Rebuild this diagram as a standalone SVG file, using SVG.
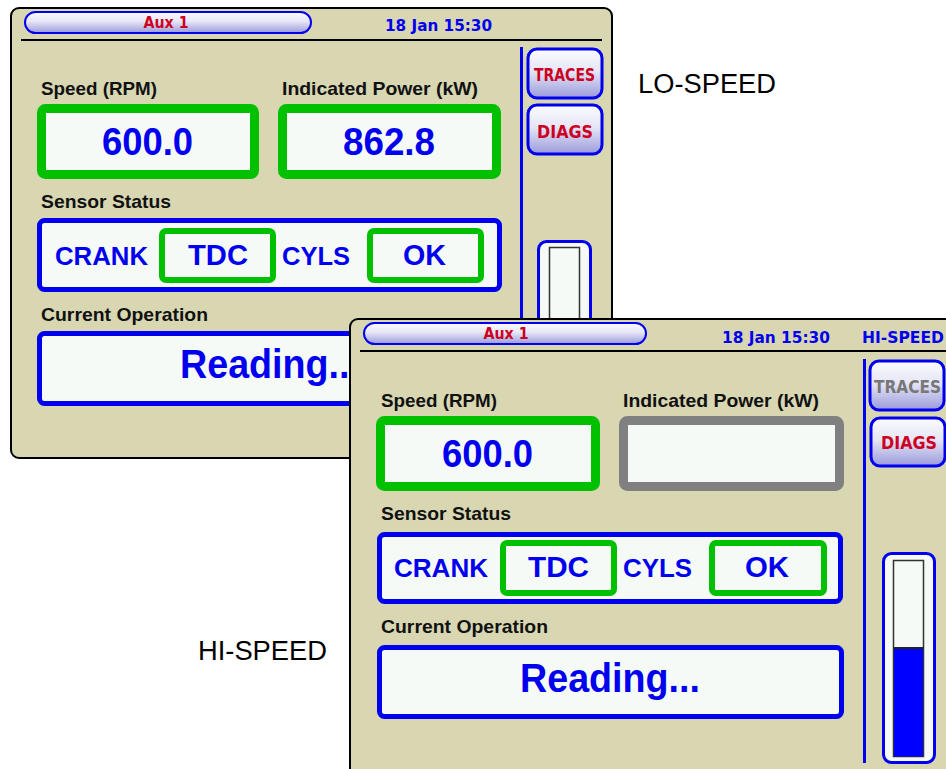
<svg xmlns="http://www.w3.org/2000/svg" width="946" height="769" viewBox="0 0 946 769">
  <defs>
    <linearGradient id="btnGrad" x1="0" y1="0" x2="0" y2="1">
      <stop offset="0" stop-color="#fbfbff"/>
      <stop offset="0.45" stop-color="#e6e6f6"/>
      <stop offset="1" stop-color="#9a9adc"/>
    </linearGradient>
    <style>
      .screen { fill: #d8d7b2; stroke: #000; stroke-width: 2; }
      .pill { fill: url(#btnGrad); stroke: #0000ee; stroke-width: 2; }
      .btn { fill: url(#btnGrad); stroke: #0000ee; stroke-width: 3; }
      .rule { stroke: #000; stroke-width: 2; }
      .vbar { stroke: #0000ee; stroke-width: 3; }
      .hdr { font-family: "DejaVu Sans", Verdana, sans-serif; font-weight: bold; font-size: 15px; }
      .aux { fill: #cc0022; }
      .blue { fill: #0000ee; }
      .btntxt { font-family: "DejaVu Sans", Verdana, sans-serif; font-weight: bold; font-size: 18px; fill: #cc0022; }
      .btntxt.off { fill: #777; }
      .lbl { font-family: "Liberation Sans", Arial, sans-serif; font-weight: bold; font-size: 18.5px; fill: #111; }
      .val { font-family: "Liberation Sans", Arial, sans-serif; font-weight: bold; font-size: 39px; fill: #0000ee; text-anchor: middle; }
      .sen { font-family: "Liberation Sans", Arial, sans-serif; font-weight: bold; font-size: 26px; fill: #0000ee; }
      .sen2 { font-family: "Liberation Sans", Arial, sans-serif; font-weight: bold; font-size: 29px; fill: #0000ee; text-anchor: middle; }
      .op { font-family: "Liberation Sans", Arial, sans-serif; font-weight: bold; font-size: 40px; fill: #0000ee; text-anchor: middle; }
      .gbox { fill: #f5faf6; stroke: #00c000; stroke-width: 9; }
      .xbox { fill: #f5faf6; stroke: #808080; stroke-width: 9; }
      .bbox { fill: #f5faf6; stroke: #0000ee; stroke-width: 5; }
      .tbox { fill: #f5faf6; stroke: #00c000; stroke-width: 6; }
      .gauge { fill: #f5faf6; stroke: #0000ee; stroke-width: 3; }
      .tube { fill: #f5faf6; stroke: #333; stroke-width: 1.5; }
      .caption { font-family: "Liberation Sans", Arial, sans-serif; font-size: 27px; fill: #000; }
    </style>
  </defs>

  <rect width="946" height="769" fill="#ffffff"/>

  <!-- Low-speed screen (behind) -->
  <g id="lo-speed-screen">
    <rect class="screen" x="11" y="8" width="601" height="450" rx="8"/>
    <g id="lo-header">
      <rect class="pill" x="25" y="12" width="286" height="21" rx="10.5"/>
      <text class="hdr aux" x="166" y="28" text-anchor="middle" textLength="45" lengthAdjust="spacingAndGlyphs">Aux 1</text>
      <text class="hdr blue" x="385" y="31" textLength="107" lengthAdjust="spacingAndGlyphs">18 Jan 15:30</text>
      <line class="rule" x1="21" y1="40" x2="602" y2="40"/>
    </g>
    <g id="lo-sidebar">
      <line class="vbar" x1="521.5" y1="47" x2="521.5" y2="330"/>
      <g id="lo-traces">
        <rect class="btn" x="528" y="49" width="74" height="49" rx="9"/>
        <text class="btntxt" x="534" y="81" textLength="61" lengthAdjust="spacingAndGlyphs">TRACES</text>
      </g>
      <g id="lo-diags">
        <rect class="btn" x="528" y="105" width="74" height="49" rx="9"/>
        <text class="btntxt" x="537" y="138" textLength="56" lengthAdjust="spacingAndGlyphs">DIAGS</text>
      </g>
      <g id="lo-gauge">
        <rect class="gauge" x="538.5" y="241.5" width="52" height="200" rx="8"/>
        <rect class="tube" x="549.5" y="247.5" width="30" height="190"/>
      </g>
    </g>
    <g id="lo-speed">
      <text class="lbl" x="41" y="95" textLength="116" lengthAdjust="spacingAndGlyphs">Speed (RPM)</text>
      <rect class="gbox" x="41.5" y="108.5" width="213" height="66" rx="4"/>
      <text class="val" x="147.5" y="155" textLength="91" lengthAdjust="spacingAndGlyphs">600.0</text>
    </g>
    <g id="lo-power">
      <text class="lbl" x="282" y="95" textLength="196" lengthAdjust="spacingAndGlyphs">Indicated Power (kW)</text>
      <rect class="gbox" x="282.5" y="108.5" width="214" height="66" rx="4"/>
      <text class="val" x="389" y="155" textLength="92" lengthAdjust="spacingAndGlyphs">862.8</text>
    </g>
    <g id="lo-sensor">
      <text class="lbl" x="41" y="208" textLength="130" lengthAdjust="spacingAndGlyphs">Sensor Status</text>
      <rect class="bbox" x="39.5" y="220.5" width="460" height="69" rx="5"/>
      <text class="sen" x="55" y="265" textLength="93" lengthAdjust="spacingAndGlyphs">CRANK</text>
      <rect class="tbox" x="162" y="231" width="111" height="49" rx="4"/>
      <text class="sen2" x="218" y="265" textLength="60" lengthAdjust="spacingAndGlyphs">TDC</text>
      <text class="sen" x="282" y="265" textLength="68" lengthAdjust="spacingAndGlyphs">CYLS</text>
      <rect class="tbox" x="370" y="231" width="111" height="49" rx="4"/>
      <text class="sen2" x="424.5" y="265" textLength="43" lengthAdjust="spacingAndGlyphs">OK</text>
    </g>
    <g id="lo-operation">
      <text class="lbl" x="41" y="321" textLength="167" lengthAdjust="spacingAndGlyphs">Current Operation</text>
      <rect class="bbox" x="39.5" y="333.5" width="460" height="70" rx="5"/>
      <text class="op" x="270" y="378" textLength="180" lengthAdjust="spacingAndGlyphs">Reading...</text>
    </g>
  </g>

  <!-- High-speed screen (front) -->
  <g id="hi-speed-screen">
    <rect class="screen" x="350" y="319" width="620" height="480" rx="8"/>
    <g id="hi-header">
      <rect class="pill" x="364" y="323" width="282" height="21" rx="10.5"/>
      <text class="hdr aux" x="506" y="339" text-anchor="middle" textLength="45" lengthAdjust="spacingAndGlyphs">Aux 1</text>
      <text class="hdr blue" x="722" y="343" textLength="108" lengthAdjust="spacingAndGlyphs">18 Jan 15:30</text>
      <text class="hdr blue" x="862" y="343" textLength="82" lengthAdjust="spacingAndGlyphs">HI-SPEED</text>
      <line class="rule" x1="360" y1="351" x2="946" y2="351"/>
    </g>
    <g id="hi-sidebar">
      <line class="vbar" x1="864.5" y1="359" x2="864.5" y2="763"/>
      <g id="hi-traces">
        <rect class="btn" x="870" y="361" width="74" height="49" rx="9"/>
        <text class="btntxt off" x="874" y="393" textLength="67" lengthAdjust="spacingAndGlyphs">TRACES</text>
      </g>
      <g id="hi-diags">
        <rect class="btn" x="871" y="418" width="74" height="48" rx="9"/>
        <text class="btntxt" x="881" y="449" textLength="56" lengthAdjust="spacingAndGlyphs">DIAGS</text>
      </g>
      <g id="hi-gauge">
        <rect class="gauge" x="883.5" y="553.5" width="51" height="209" rx="8"/>
        <rect class="tube" x="893.5" y="560.5" width="30" height="196"/>
        <rect x="894" y="648" width="29" height="108.5" fill="#0000ff"/>
        <line x1="893.5" y1="648" x2="923.5" y2="648" stroke="#222" stroke-width="2"/>
      </g>
    </g>
    <g id="hi-speed">
      <text class="lbl" x="381" y="407" textLength="116" lengthAdjust="spacingAndGlyphs">Speed (RPM)</text>
      <rect class="gbox" x="380.5" y="420.5" width="215" height="66" rx="4"/>
      <text class="val" x="487.5" y="467" textLength="91" lengthAdjust="spacingAndGlyphs">600.0</text>
    </g>
    <g id="hi-power">
      <text class="lbl" x="623" y="407" textLength="196" lengthAdjust="spacingAndGlyphs">Indicated Power (kW)</text>
      <rect class="xbox" x="623.5" y="420.5" width="216" height="66" rx="4"/>
    </g>
    <g id="hi-sensor">
      <text class="lbl" x="381" y="520" textLength="130" lengthAdjust="spacingAndGlyphs">Sensor Status</text>
      <rect class="bbox" x="379.5" y="534.5" width="461" height="67" rx="5"/>
      <text class="sen" x="394" y="577" textLength="94" lengthAdjust="spacingAndGlyphs">CRANK</text>
      <rect class="tbox" x="503" y="543" width="111" height="50" rx="4"/>
      <text class="sen2" x="558.5" y="577" textLength="61" lengthAdjust="spacingAndGlyphs">TDC</text>
      <text class="sen" x="623" y="577" textLength="69" lengthAdjust="spacingAndGlyphs">CYLS</text>
      <rect class="tbox" x="712" y="543" width="112" height="50" rx="4"/>
      <text class="sen2" x="767" y="577" textLength="44" lengthAdjust="spacingAndGlyphs">OK</text>
    </g>
    <g id="hi-operation">
      <text class="lbl" x="381" y="633" textLength="167" lengthAdjust="spacingAndGlyphs">Current Operation</text>
      <rect class="bbox" x="379.5" y="647.5" width="462" height="69" rx="5"/>
      <text class="op" x="610" y="692" textLength="180" lengthAdjust="spacingAndGlyphs">Reading...</text>
    </g>
  </g>

  <!-- Captions -->
  <text id="cap-lo" class="caption" x="638" y="93" textLength="138" lengthAdjust="spacingAndGlyphs">LO-SPEED</text>
  <text id="cap-hi" class="caption" x="198" y="660" textLength="129" lengthAdjust="spacingAndGlyphs">HI-SPEED</text>
</svg>
